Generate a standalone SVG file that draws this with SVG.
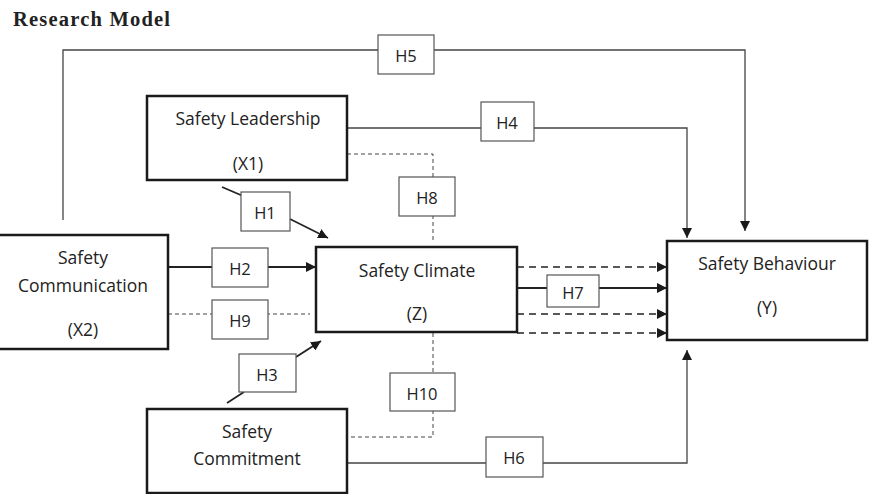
<svg xmlns="http://www.w3.org/2000/svg" width="869" height="494" viewBox="0 0 869 494">
<style>
.node{fill:#fff;stroke:#1a1a1a;stroke-width:2.5}
.lbl{fill:#fff;stroke:#555;stroke-width:1.2}
.t{font-family:"Open Sans","Liberation Sans",sans-serif;font-size:17.5px;fill:#222;text-anchor:middle;dominant-baseline:central}
.h{font-family:"Open Sans","Liberation Sans",sans-serif;font-size:16.5px;fill:#222;text-anchor:middle;dominant-baseline:central}
.c{fill:none;stroke:#444;stroke-width:1.3}
.cb{fill:none;stroke:#222;stroke-width:1.8}
.d{fill:none;stroke:#444;stroke-width:1;stroke-dasharray:4 3}
.db{fill:none;stroke:#222;stroke-width:1.6;stroke-dasharray:7 5}
</style>
<defs>
<marker id="ah" viewBox="0 0 10 10" refX="10" refY="5" markerWidth="10" markerHeight="10" markerUnits="userSpaceOnUse" orient="auto">
<path d="M0,0 L10,5 L0,10 Z" fill="#1a1a1a"/>
</marker>
</defs>
<rect width="869" height="494" fill="#fff"/>
<text x="13" y="26" font-family="Liberation Serif,serif" font-weight="bold" font-size="20.5" fill="#222" textLength="157" lengthAdjust="spacing">Research Model</text>

<g id="connectors">
<polyline class="c" points="63,220 63,50 745,50 745,231" marker-end="url(#ah)"/>
<polyline class="c" points="347,128 687,128 687,238" marker-end="url(#ah)"/>
<polyline class="d" points="347,154 433,154 433,242"/>
<polyline class="d" points="433,333 433,437 347,437"/>
<polyline class="c" points="347,463 687,463 687,350" marker-end="url(#ah)"/>
<line class="cb" x1="168" y1="267" x2="316" y2="267" marker-end="url(#ah)"/>
<line class="d" x1="168" y1="314" x2="310" y2="314"/>
<line class="cb" x1="222" y1="187" x2="243" y2="196"/>
<line class="cb" x1="290" y1="219" x2="328" y2="238" marker-end="url(#ah)"/>
<line class="cb" x1="227" y1="403" x2="244" y2="392"/>
<line class="cb" x1="296" y1="357" x2="321" y2="341" marker-end="url(#ah)"/>
<line class="db" x1="517" y1="267" x2="667" y2="267" marker-end="url(#ah)"/>
<line class="cb" x1="517" y1="288" x2="667" y2="288" marker-end="url(#ah)"/>
<line class="db" x1="517" y1="314" x2="667" y2="314" marker-end="url(#ah)"/>
<line class="db" x1="517" y1="333" x2="667" y2="333" marker-end="url(#ah)"/>
</g>

<g id="labels">
<g id="h5"><rect class="lbl" x="378" y="35" width="56" height="39"/><text class="h" x="406" y="55">H5</text></g>
<g id="h4"><rect class="lbl" x="481" y="102" width="53" height="39"/><text class="h" x="507" y="122">H4</text></g>
<g id="h8"><rect class="lbl" x="399" y="177" width="56" height="39"/><text class="h" x="427" y="197">H8</text></g>
<g id="h1"><rect class="lbl" x="241" y="192" width="49" height="39"/><text class="h" x="265" y="212">H1</text></g>
<g id="h2"><rect class="lbl" x="212" y="248" width="56" height="39"/><text class="h" x="240" y="268">H2</text></g>
<g id="h9"><rect class="lbl" x="212" y="300" width="56" height="39"/><text class="h" x="240" y="320">H9</text></g>
<g id="h3"><rect class="lbl" x="239" y="354" width="57" height="38"/><text class="h" x="267" y="374">H3</text></g>
<g id="h10"><rect class="lbl" x="390" y="373" width="65" height="38"/><text class="h" x="422" y="393">H10</text></g>
<g id="h6"><rect class="lbl" x="486" y="437" width="57" height="40"/><text class="h" x="514" y="457">H6</text></g>
<g id="h7"><rect class="lbl" x="547" y="275" width="52" height="32"/><text class="h" x="573" y="292">H7</text></g>
</g>

<g id="safety-leadership"><rect class="node" x="147" y="96" width="200" height="84"/><text class="t" x="248" y="118">Safety Leadership</text><text class="t" x="248" y="163">(X1)</text></g>
<g id="safety-communication"><rect class="node" x="-3" y="235" width="171" height="114"/><text class="t" x="83" y="257">Safety</text><text class="t" x="83" y="285">Communication</text><text class="t" x="83" y="329">(X2)</text></g>
<g id="safety-climate"><rect class="node" x="316" y="247" width="201" height="85"/><text class="t" x="417" y="270">Safety Climate</text><text class="t" x="417" y="313">(Z)</text></g>
<g id="safety-commitment"><rect class="node" x="147" y="409" width="200" height="84"/><text class="t" x="247" y="431">Safety</text><text class="t" x="247" y="458">Commitment</text></g>
<g id="safety-behaviour"><rect class="node" x="667" y="241" width="200" height="99"/><text class="t" x="767" y="263">Safety Behaviour</text><text class="t" x="767" y="307">(Y)</text></g>
</svg>
